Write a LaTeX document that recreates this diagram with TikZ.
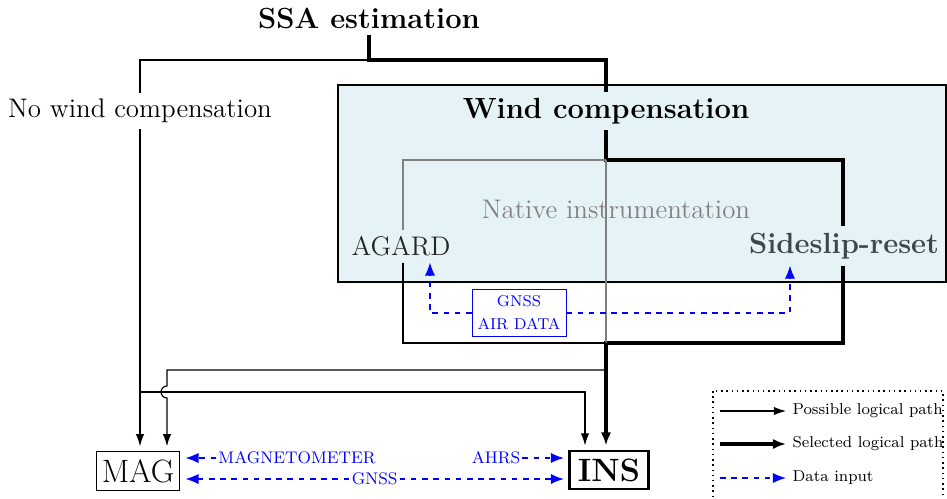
\documentclass[tikz,border=0pt]{standalone}
\usetikzlibrary{
    arrows.meta,
    positioning
}
\definecolor{windbg}{RGB}{229,243,247}
\definecolor{slate}{RGB}{58,72,80}
\pgfdeclarelayer{back}
\pgfdeclarelayer{wires}
\pgfsetlayers{back,wires,main}
\tikzset{
    thinarrow/.tip={Latex[length=6.5pt,width=4.5pt]},
    bigarrow/.tip={Latex[length=7pt,width=5.5pt]},
    possible/.style={-thinarrow, line width=0.6pt},
    selected/.style={-bigarrow, line width=1.7pt},
    datain/.style={-bigarrow, blue, dashed, line width=0.8pt},
    heading/.style={font=\fontsize{15.6}{18}\selectfont\bfseries},
    branch/.style={font=\Large},
    unit/.style={draw, font=\LARGE, inner xsep=3pt, inner ysep=4pt, outer sep=3pt},
    source/.style={draw=blue, text=blue, font=\fontsize{8.4}{12.3}\selectfont, align=center, inner xsep=3pt, inner ysep=3.5pt},
    datalabel/.style={text=blue, font=\small, fill=white, inner sep=1pt},
    legendtext/.style={font=\fontsize{8.45}{10}\selectfont, anchor=west},
}

\begin{document}
\begin{tikzpicture}[x=0.535pt,y=-0.535pt]
   \useasboundingbox (0,0) rectangle (947,498);
   \node[heading] (ssa) at (369,18) {SSA estimation};
   \node[branch,fill=white] (nowind) at (140,111) {No wind compensation};
   \node[heading,fill=windbg] (wind) at (606,111) {Wind compensation};
   \node[branch,text=gray] (native) at (616,209) {Native instrumentation};
   \node[branch,text=black!85] (agard) at (401,246) {AGARD};
   \node[heading,text=slate] (sideslip) at (844,246) {Sideslip-reset};
   \node[source] (airdata) at (519,313) {GNSS\\AIR DATA};
   \node[unit] (mag) at (138,471) {MAG};
   \node[unit,font=\LARGE\bfseries,line width=1.5pt,inner xsep=4.5pt] (ins) at (609,470) {INS};
   \node[datalabel] (magneto) at (297,458) {MAGNETOMETER};
   \node[datalabel] (ahrs) at (496,458) {AHRS};

   \node[legendtext] (lgpossible) at (786,411) {Possible logical path};
   \node[legendtext] (lgselected) at (786,444) {Selected logical path};
   \node[legendtext] (lgdata) at (786,478) {Data input};

   \coordinate (ssabend) at (369,60);
   \coordinate (nwtop) at (140,60);
   \coordinate (wctop) at (606,60);
   \coordinate (wcsplit) at (606,160);
   \coordinate (agtop) at (403,160);
   \coordinate (sstop) at (843,160);
   \coordinate (agbot) at (403,343);
   \coordinate (ssbot) at (843,343);
   \coordinate (merge) at (606,343);
   \coordinate (branch2) at (606,370);
   \coordinate (left2) at (167,370);
   \coordinate (hop) at (167,386);
   \coordinate (branch1) at (140,392);
   \coordinate (right1) at (585,392);
   \coordinate (agin) at (430,313);
   \coordinate (ssin) at (790,313);
   \coordinate (gnssrow) at (383,479);
   \coordinate (lg1) at (720,411);
   \coordinate (lg2) at (720,444);
   \coordinate (lg3) at (720,478);

   \begin{pgfonlayer}{back}
    \draw[line width=1pt,fill=windbg] (338,85) rectangle (946,282);
    \draw[dotted,line width=0.8pt] (713,391) rectangle (943,540);
   \end{pgfonlayer}

   \begin{pgfonlayer}{wires}
    \draw[selected,-] (ssa) -- (ssabend) -- (wctop) -- (wcsplit) -- (sstop) -- (sstop |- sideslip.north);
    \draw[selected] (ssbot |- sideslip.south) -- (ssbot) -- (merge) -- (merge |- ins.north);
    \draw[possible,-,gray] (wcsplit) -- (agtop) -- (agtop |- agard.north);
    \draw[possible,-,gray] (wcsplit) -- (merge);
    \draw[possible,-] (agtop |- agard.south) -- (agbot) -- (merge);
    \draw[possible] (ssabend) -- (nwtop) -- (nwtop |- mag.north);
    \draw[possible] (branch1) -- (right1) -- (right1 |- ins.north);
    \draw[possible] (branch2) -- (left2) -- (hop) arc[start angle=90,end angle=270,radius=3.2pt] -- (left2 |- mag.north);

    \draw[datain] (airdata) -- (agin) -- (agin |- agard.south);
    \draw[datain] (airdata) -- (ssin) -- (ssin |- sideslip.south);
    \draw[datain] (magneto) -- (magneto -| mag.east);
    \draw[datain] (ahrs) -- (ahrs -| ins.west);
    \draw[datain,bigarrow-bigarrow] (gnssrow -| mag.east) -- node[datalabel] (gnsslabel) {GNSS} (gnssrow -| ins.west);

    \draw[possible] (lg1) -- (lgpossible);
    \draw[selected] (lg2) -- (lgselected);
    \draw[datain] (lg3) -- (lgdata);
   \end{pgfonlayer}
\end{tikzpicture}
\end{document}
